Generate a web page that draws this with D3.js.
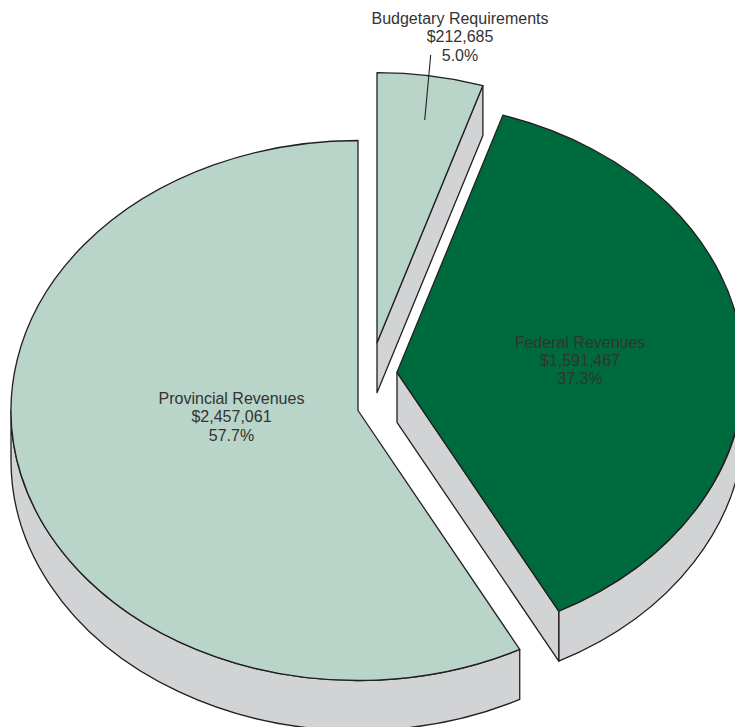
<!DOCTYPE html>
<html>
<head>
<meta charset="utf-8">
<script src="https://cdn.jsdelivr.net/npm/d3@7/dist/d3.min.js"></script>
<style>html,body{margin:0;padding:0;background:#fff;overflow:hidden}svg{display:block}</style>
</head>
<body>
<svg id="c" width="735" height="727"></svg>
<script>
const categories = ["Budgetary Requirements", "Federal Revenues", "Provincial Revenues"];
const amounts = [212685, 1591467, 2457061];
const shares = ["5.0%", "37.3%", "57.7%"];
const colors = ["#b9d4c8", "#006a3f", "#b9d4c8"];
const centerX = [377, 397, 358];
const centerY = [342.7, 372.3, 410.5];
const labelX = [460, 580, 231.5];
const labelY = [23.5, 348, 403.5];
const labelGap = [18.6, 18, 18.6];

const W = 735, H = 727, RX = 347, RY = 270, DEPTH = 50;
const side = "#d1d3d4", ink = "#231f20", textInk = "#333333";
const NUDGE = 0.0035;
const svg = d3.select("#c");
const money = d3.format("$,");
const pie = d3.pie().sort(null).value(d => d.amount);
const rows = categories.map((name, i) => ({name, amount: amounts[i], share: shares[i], color: colors[i], cx: centerX[i], cy: centerY[i], lx: labelX[i], ly: labelY[i], gap: labelGap[i]}));
const Pi = Math.PI;
const arcs = pie(rows).map(d => ({...d,
  startAngle: d.startAngle > 0 ? d.startAngle - NUDGE : d.startAngle,
  endAngle: d.endAngle < 2 * Pi - 1e-6 ? d.endAngle - NUDGE : d.endAngle}));
const arcGen = d3.arc().innerRadius(0).outerRadius(RX);
const ptOn = (a, d) => [d.data.cx + RX * Math.sin(a), d.data.cy - RY * Math.cos(a)];

const order = arcs.slice().reverse();
order.forEach(d => {
  const g = svg.append("g");
  const style = s => s.attr("fill", side).attr("stroke", ink).attr("stroke-width", 1.3).attr("stroke-linejoin", "round");
  // outer rim: front half only
  const a0 = Math.max(d.startAngle, Pi / 2), a1 = Math.min(d.endAngle, 1.5 * Pi);
  if (a1 > a0) {
    const [x0, y0] = ptOn(a0, d), [x1, y1] = ptOn(a1, d);
    g.append("path").call(style).attr("d",
      `M${x0},${y0}A${RX},${RY} 0 0 1 ${x1},${y1}L${x1},${y1 + DEPTH}A${RX},${RY} 0 0 0 ${x0},${y0 + DEPTH}Z`);
  }
  // cut faces
  const face = a => {
    const [x, y] = ptOn(a, d);
    g.append("path").call(style).attr("d",
      `M${d.data.cx},${d.data.cy}L${x},${y}L${x},${y + DEPTH}L${d.data.cx},${d.data.cy + DEPTH}Z`);
  };
  if (d.endAngle < Pi) face(d.endAngle);
  if (d.startAngle > Pi) face(d.startAngle);
  // top
  g.append("path")
    .attr("d", arcGen(d))
    .attr("transform", `translate(${d.data.cx},${d.data.cy}) scale(1,${RY / RX})`)
    .attr("fill", d.data.color)
    .attr("stroke", ink).attr("stroke-width", 1.3).attr("stroke-linejoin", "round")
    .attr("vector-effect", "non-scaling-stroke");
});

// leader line of the small slice
svg.append("line").attr("x1", 430.7).attr("y1", 55).attr("x2", 424.7).attr("y2", 120)
  .attr("stroke", ink).attr("stroke-width", 1.1);

rows.forEach(d => {
  const t = svg.append("text").attr("text-anchor", "middle")
    .attr("font-family", "'Liberation Sans', Arial, sans-serif").attr("font-size", 16)
    .attr("fill", textInk);
  [d.name, money(d.amount), d.share].forEach((s, i) => {
    t.append("tspan").attr("x", d.lx).attr("y", d.ly + i * d.gap).text(s);
  });
});
</script>
</body>
</html>
